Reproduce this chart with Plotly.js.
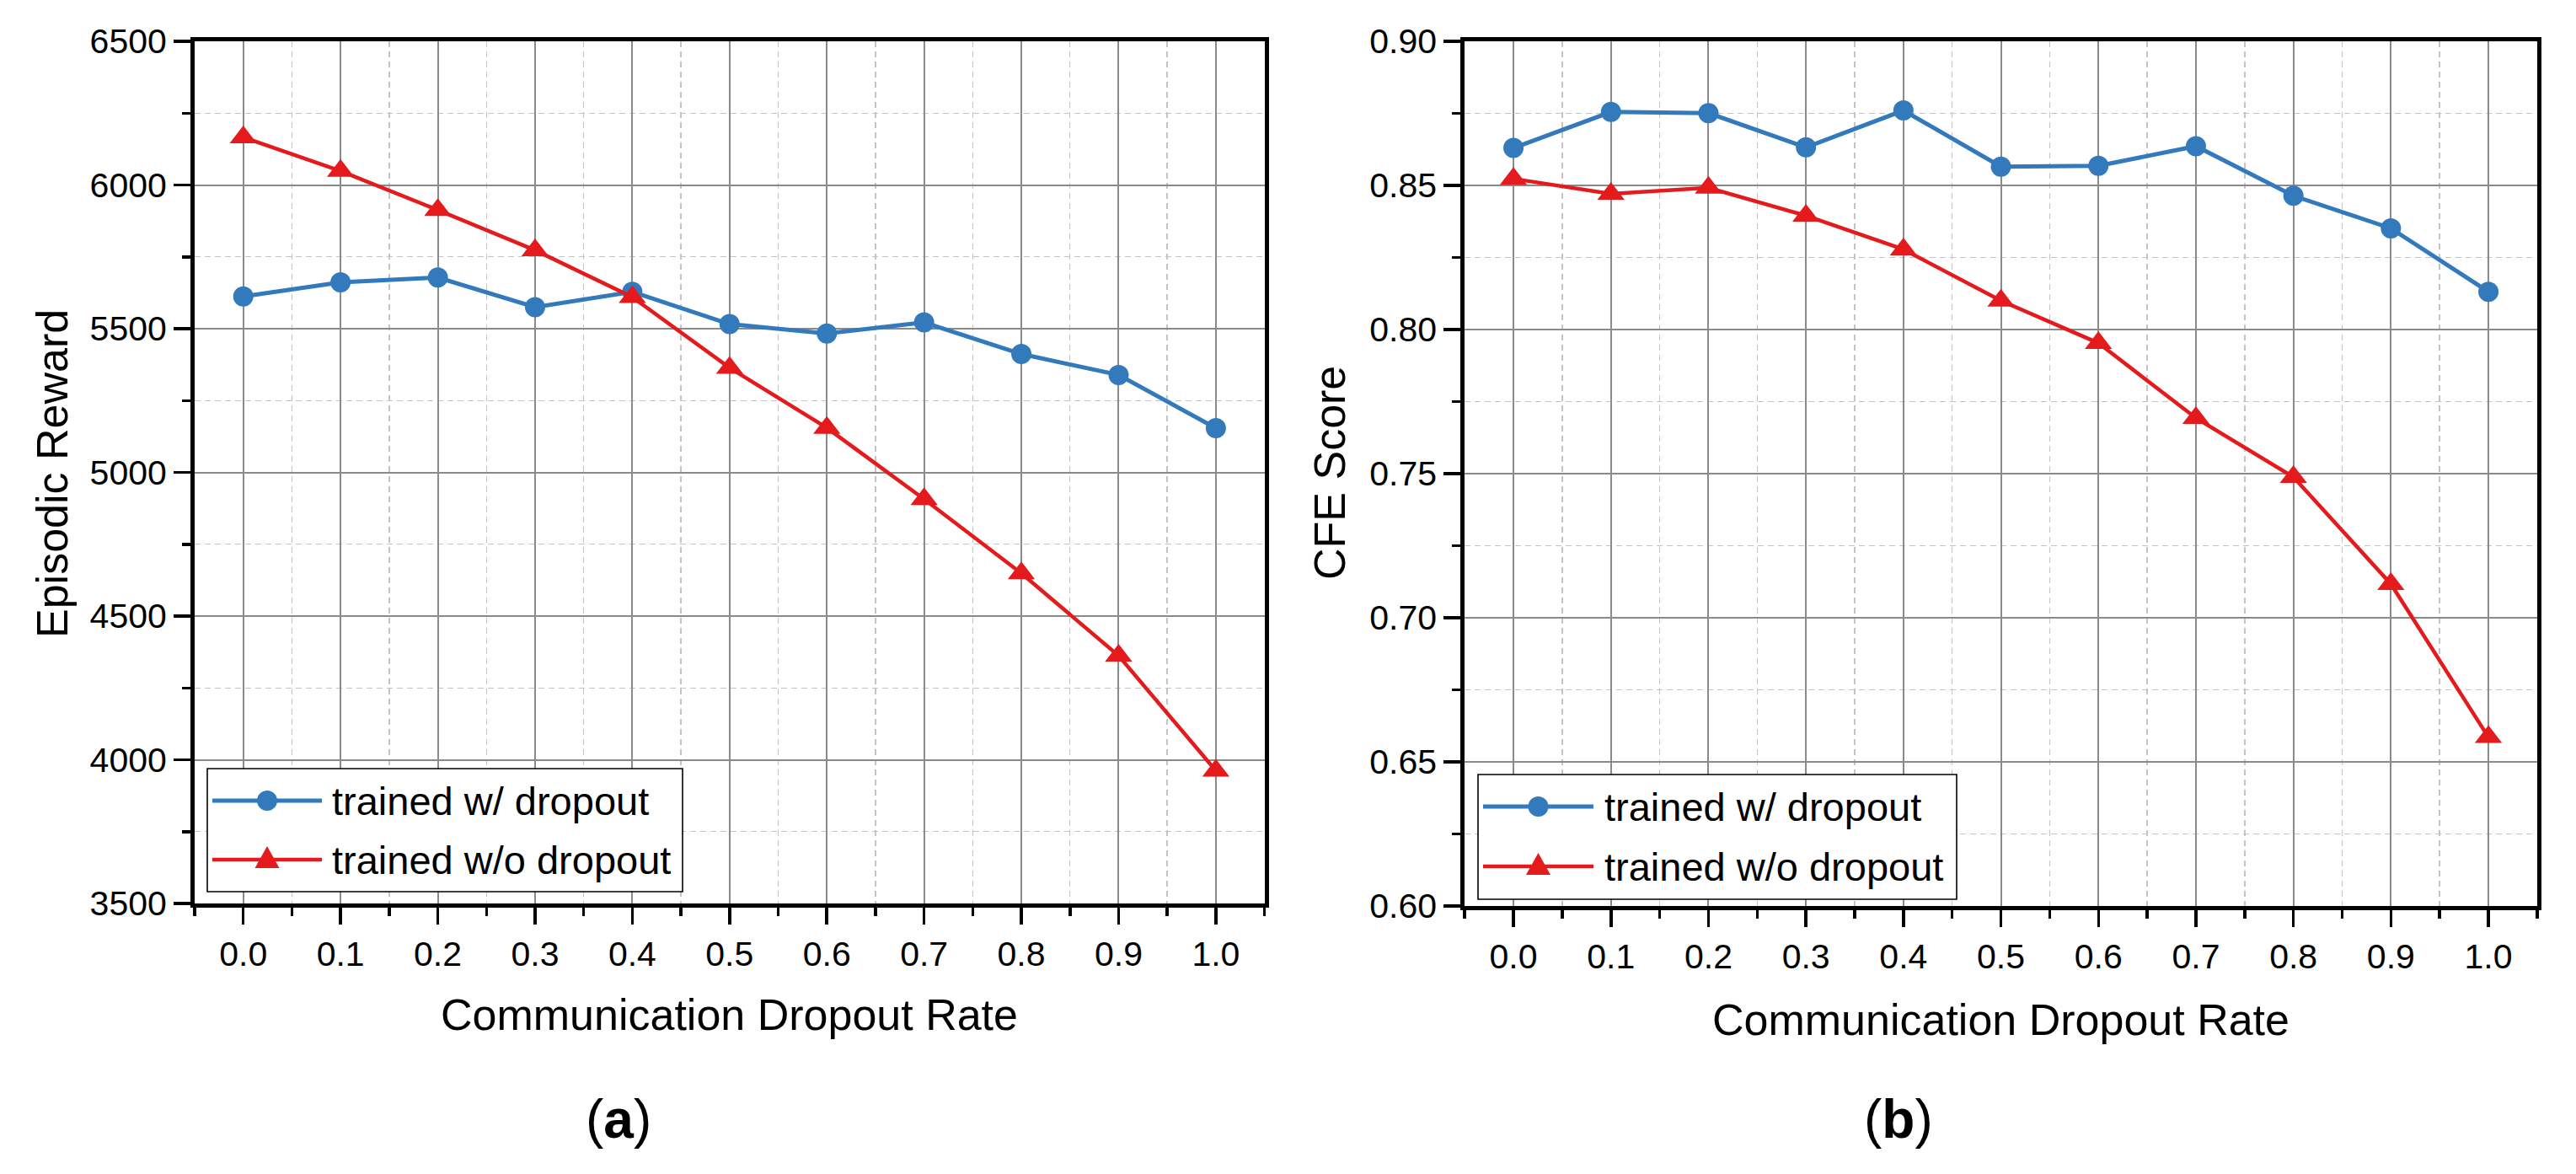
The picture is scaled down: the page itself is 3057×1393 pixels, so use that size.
<!DOCTYPE html>
<html>
<head>
<meta charset="utf-8">
<script src="https://cdn.plot.ly/plotly-3.0.1.min.js"></script>
<style>
  html, body { margin: 0; padding: 0; background: #ffffff; }
  #chart { width: 3057px; height: 1393px; }
</style>
</head>
<body>
<div id="chart"></div>
<script>
// ---------------- data ----------------
const dropoutRates = [0.0, 0.1, 0.2, 0.3, 0.4, 0.5, 0.6, 0.7, 0.8, 0.9, 1.0];
const seriesNames = ["trained w/ dropout", "trained w/o dropout"];
const rewardWithDropout = [5612, 5661, 5678, 5575, 5628, 5516, 5483, 5522, 5412, 5339, 5154];
const rewardWithoutDropout = [6166, 6049, 5913, 5773, 5610, 5364, 5155, 4907, 4649, 4362, 3962];
const cfeWithDropout = [0.8630, 0.8755, 0.8751, 0.8632, 0.8760, 0.8565, 0.8568, 0.8636, 0.8464, 0.8351, 0.8131];
const cfeWithoutDropout = [0.8523, 0.8471, 0.8492, 0.8395, 0.8278, 0.8100, 0.7953, 0.7693, 0.7488, 0.7117, 0.6586];
const xTitle = "Communication Dropout Rate";
const yTitleA = "Episodic Reward";
const yTitleB = "CFE Score";
const panelLabels = ["a", "b"];

// ---------------- style ----------------
const W = 3057, H = 1393;
const BLUE = "#337abd", RED = "#e41a1c";
const FONT = "Liberation Sans, Arial, sans-serif";
const px = x => x / W;
const py = y => 1 - y / H;

function lineTrace(y, idx, xa, ya) {
  const isBlue = idx === 0;
  return {
    type: "scatter", mode: "lines+markers",
    x: dropoutRates, y: y, xaxis: xa, yaxis: ya,
    name: seriesNames[idx], showlegend: false,
    line: { color: isBlue ? BLUE : RED, width: isBlue ? 5 : 4.5 },
    marker: isBlue ? { symbol: "circle", size: 24, color: BLUE }
                   : { symbol: "triangle-up", size: 28, color: RED },
    cliponaxis: false
  };
}

const data = [
  lineTrace(rewardWithDropout, 0, "x", "y"),
  lineTrace(rewardWithoutDropout, 1, "x", "y"),
  lineTrace(cfeWithDropout, 0, "x2", "y2"),
  lineTrace(cfeWithoutDropout, 1, "x2", "y2")
];

function xAxis(domain, anchor) {
  return {
    domain: domain, anchor: anchor, range: [-0.05, 1.05],
    tickmode: "linear", tick0: 0, dtick: 0.1, tickformat: ".1f",
    showline: true, linewidth: 5, linecolor: "#000", mirror: true,
    ticks: "outside", ticklen: 20, tickwidth: 3.5, tickcolor: "#000",
    showgrid: true, gridcolor: "#8a8a8a", gridwidth: 2,
    zeroline: false,
    tickfont: { family: FONT, size: 41, color: "#000" },
    minor: { tick0: 0.05, dtick: 0.1, ticks: "outside", ticklen: 10, tickwidth: 3.5, tickcolor: "#000",
             showgrid: true, gridcolor: "#c4c4c4", gridwidth: 1.4, griddash: "7px,5px" }
  };
}
function yAxis(domain, anchor, range, dtick, fmt) {
  return {
    domain: domain, anchor: anchor, range: range,
    tickmode: "linear", tick0: range[0], dtick: dtick, tickformat: fmt,
    showline: true, linewidth: 5, linecolor: "#000", mirror: true,
    ticks: "outside", ticklen: 20, tickwidth: 3.5, tickcolor: "#000",
    showgrid: true, gridcolor: "#8a8a8a", gridwidth: 2,
    zeroline: false,
    tickfont: { family: FONT, size: 41, color: "#000" },
    minor: { tick0: range[0] + dtick / 2, dtick: dtick, ticks: "outside", ticklen: 10, tickwidth: 3.5, tickcolor: "#000",
             showgrid: true, gridcolor: "#c4c4c4", gridwidth: 1.4, griddash: "7px,5px" }
  };
}

// panel geometry (pixels)
const A = { l: 231, r: 1500.6, t: 49, b: 1072 };
const B = { l: 1738.2, r: 3010.9, t: 49, b: 1075 };

const layout = {
  width: W, height: H,
  margin: { l: 0, r: 0, t: 0, b: 0, pad: 0 },
  paper_bgcolor: "#fff", plot_bgcolor: "#fff",
  showlegend: false,
  xaxis: xAxis([px(A.l), px(A.r)], "y"),
  yaxis: yAxis([py(A.b), py(A.t)], "x", [3500, 6500], 500, "d"),
  xaxis2: xAxis([px(B.l), px(B.r)], "y2"),
  yaxis2: yAxis([py(B.b), py(B.t)], "x2", [0.60, 0.90], 0.05, ".2f"),
  shapes: [], annotations: []
};

function addText(text, x, y, size, opts) {
  layout.annotations.push(Object.assign({
    text: text, xref: "paper", yref: "paper", x: px(x), y: py(y),
    xanchor: "center", yanchor: "middle", showarrow: false,
    font: { family: FONT, size: size, color: "#000" }
  }, opts || {}));
}

// axis titles and panel labels
addText(xTitle, (A.l + A.r) / 2, 1204, 52);
addText(xTitle, (B.l + B.r) / 2, 1210, 52);
addText(yTitleA, 62, 562, 52, { textangle: -90 });
addText(yTitleB, 1578, 561, 52, { textangle: -90 });
addText("(<b>" + panelLabels[0] + "</b>)", 734, 1328, 64);
addText("(<b>" + panelLabels[1] + "</b>)", 2253, 1328, 64);

// legends
function addLegend(box, lx0, lx1, tx, rows) {
  layout.shapes.push({
    type: "rect", xref: "paper", yref: "paper",
    x0: px(box[0]), x1: px(box[1]), y0: py(box[3]), y1: py(box[2]),
    fillcolor: "#fff", line: { color: "#000", width: 1.6 }, layer: "above"
  });
  const mx = (lx0 + lx1) / 2;
  rows.forEach((ry, i) => {
    const col = i === 0 ? BLUE : RED;
    layout.shapes.push({
      type: "line", xref: "paper", yref: "paper",
      x0: px(lx0), x1: px(lx1), y0: py(ry), y1: py(ry),
      line: { color: col, width: i === 0 ? 5 : 4.5 }, layer: "above"
    });
    if (i === 0) {
      layout.shapes.push({
        type: "circle", xref: "paper", yref: "paper",
        xsizemode: "pixel", ysizemode: "pixel", xanchor: px(mx), yanchor: py(ry),
        x0: -12, x1: 12, y0: -12, y1: 12,
        fillcolor: col, line: { width: 0 }, layer: "above"
      });
    } else {
      layout.shapes.push({
        type: "path", xref: "paper", yref: "paper",
        xsizemode: "pixel", ysizemode: "pixel", xanchor: px(mx), yanchor: py(ry),
        path: "M-14.5,-10L14.5,-10L0,16Z",
        fillcolor: col, line: { width: 0 }, layer: "above"
      });
    }
    addText(seriesNames[i], tx, ry, 47, { xanchor: "left" });
  });
}
addLegend([246, 810, 912, 1058], 252, 382, 392, [950, 1020]);
addLegend([1754, 2322, 919, 1067], 1760, 1891, 1902, [957, 1028]);

Plotly.newPlot("chart", data, layout, { staticPlot: true, displayModeBar: false });
</script>
</body>
</html>
